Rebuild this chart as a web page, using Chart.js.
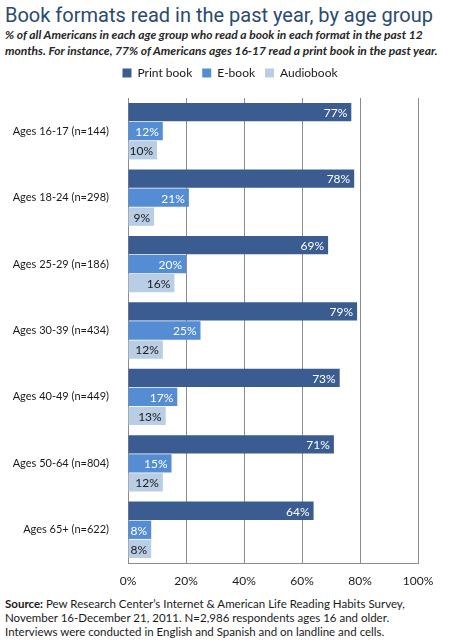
<!DOCTYPE html>
<html>
  <head>
    <title>Book formats read in the past year, by age group</title>
    <style>
      body { margin: 0; width: 453px; height: 640px; background: #fff; position: relative; overflow: hidden; }
      #title { position: absolute; left: 5px; top: 3px; font-family: "Roboto", sans-serif; font-size: 20px; color: #2b4a6e; white-space: nowrap; }
      #sub { position: absolute; left: 5px; top: 27px; width: 448px; font-family: "Lato", sans-serif; font-style: italic; font-weight: bold; font-size: 12px; line-height: 16px; color: #262626; }
      #wrap { position: absolute; left: 0; top: 56px; width: 453px; height: 534px; }
      #source { position: absolute; left: 5px; top: 597px; font-family: "Lato", sans-serif; font-size: 11.5px; line-height: 14px; color: #1a1a1a; }
    </style>
  </head>
  <body>
    <div id="title">Book formats read in the past year, by age group</div>
    <div id="sub">% of all Americans in each age group who read a book in each format in the past 12<br>months. For instance, 77% of Americans ages 16-17 read a print book in the past year.</div>
    <div id="wrap"><canvas id="myChart"></canvas></div>
    <div id="source"><b>Source:</b> Pew Research Center’s Internet &amp; American Life Reading Habits Survey,<br>November 16-December 21, 2011. N=2,986 respondents ages 16 and older.<br>Interviews were conducted in English and Spanish and on landline and cells.</div>

    <script src="https://cdn.jsdelivr.net/npm/chart.js@4"></script>
    <script>
      // 年齡組別與各格式比例
      const ageGroups = ["Ages 16-17 (n=144)", "Ages 18-24 (n=298)", "Ages 25-29 (n=186)", "Ages 30-39 (n=434)", "Ages 40-49 (n=449)", "Ages 50-64 (n=804)", "Ages 65+ (n=622)"];
      const printBook = [77, 78, 69, 79, 73, 71, 64];
      const eBook = [12, 21, 20, 25, 17, 15, 8];
      const audioBook = [10, 9, 16, 12, 13, 12, 8];
      const xTicks = [0, 20, 40, 60, 80, 100];

      const font = "Lato";

      // bar 內的數值標籤
      const valueLabels = {
        id: "valueLabels",
        afterDatasetsDraw(chart) {
          const ctx = chart.ctx;
          ctx.save();
          ctx.font = "12px " + font;
          ctx.textAlign = "right";
          ctx.textBaseline = "middle";
          chart.data.datasets.forEach((ds, i) => {
            ctx.fillStyle = i === 2 ? "#1a1a1a" : "#ffffff";
            chart.getDatasetMeta(i).data.forEach((bar, j) => {
              ctx.fillText(ds.data[j] + "%", bar.x - 4, bar.y + 1);
            });
          });
          ctx.restore();
        },
      };

      // 圖例：下方多留空間，整體往右移
      const legendTweak = {
        id: "legendTweak",
        beforeInit(chart) {
          const legend = chart.legend;
          const fit = legend.fit;
          legend.fit = function () {
            fit.call(legend);
            this.height += 9;
          };
          const draw = legend.draw;
          legend.draw = function () {
            chart.ctx.save();
            chart.ctx.translate(21, 0);
            draw.call(legend);
            chart.ctx.restore();
          };
        },
      };

      const ctx = document.getElementById("myChart").getContext("2d");
      const myChart = new Chart(ctx, {
        type: "bar",
        data: {
          labels: ageGroups,
          datasets: [
            { label: "Print book", data: printBook, backgroundColor: "#3a5c91" },
            { label: "E-book", data: eBook, backgroundColor: "#548dd4" },
            { label: "Audiobook", data: audioBook, backgroundColor: "#b9cde5" },
          ],
        },
        options: {
          indexAxis: "y",
          responsive: true,
          maintainAspectRatio: false,
          animation: false,
          datasets: { bar: { categoryPercentage: 0.86, barPercentage: 0.96 } },
          layout: { padding: { top: 1, right: 35, left: 0, bottom: 0 } },
          scales: {
            x: {
              min: 0,
              max: 100,
              afterBuildTicks(scale) {
                scale.ticks = xTicks.map((v) => ({ value: v }));
              },
              afterFit(scale) {
                scale.height = 27;
              },
              grid: { color: "#8c8c8c", drawTicks: false },
              border: { display: true, color: "#8c8c8c" },
              ticks: {
                padding: 11,
                color: "#1a1a1a",
                font: { family: font, size: 12 },
                callback: (v) => v + "%",
              },
            },
            y: {
              afterFit(scale) {
                scale.width = 128;
              },
              grid: { display: false },
              border: { display: true, color: "#8c8c8c" },
              ticks: {
                padding: 11,
                color: "#1a1a1a",
                font: { family: font, size: 11 },
              },
            },
          },
          plugins: {
            legend: {
              labels: {
                boxWidth: 9,
                boxHeight: 9,
                padding: 10,
                color: "#1a1a1a",
                font: { family: font, size: 12 },
              },
            },
            tooltip: { enabled: false },
          },
        },
        plugins: [valueLabels, legendTweak],
      });
    </script>
  </body>
</html>
